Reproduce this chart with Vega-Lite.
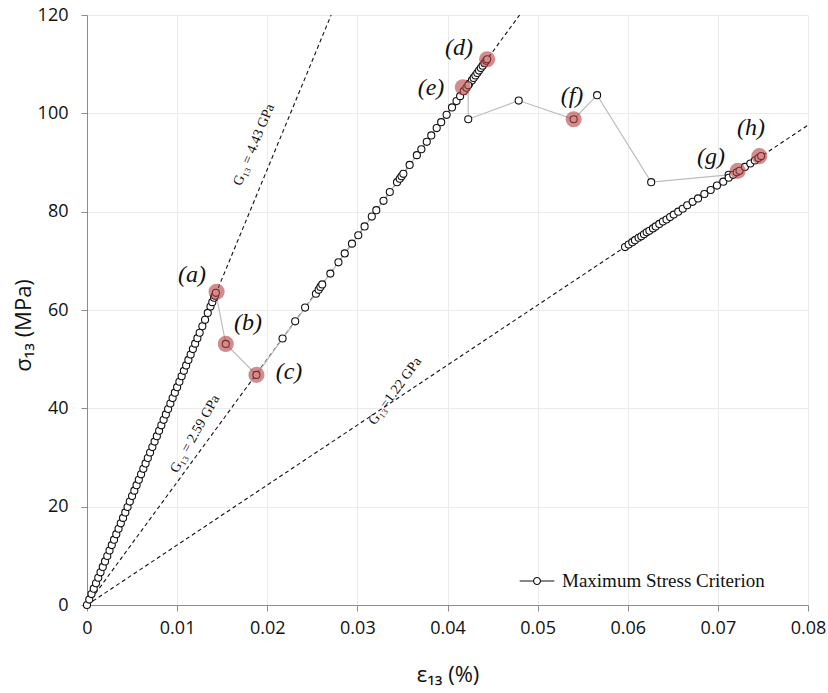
{
  "$schema": "https://vega.github.io/schema/vega-lite/v6.json",
  "width": 721,
  "height": 590,
  "autosize": {"type": "none"},
  "padding": {"left": 87, "top": 15, "right": 20, "bottom": 88},
  "background": "white",
  "config": {
    "view": {"stroke": null},
    "axis": {
      "labelFont": "Open Sans",
      "labelFontSize": 18,
      "labelColor": "#111",
      "labelFlush": false,
      "titleFont": "Open Sans",
      "titleFontSize": 22,
      "titleFontWeight": "normal",
      "titleColor": "#111",
      "domainColor": "#8c8c8c",
      "tickColor": "#8c8c8c",
      "gridColor": "#ebebeb",
      "tickSize": 6
    }
  },
  "datasets": {
    "refs": [
      {"line": "G443", "strain": 0, "stress": 0},
      {"line": "G443", "strain": 0.02709, "stress": 120},
      {"line": "G259", "strain": 0, "stress": 0},
      {"line": "G259", "strain": 0.048, "stress": 120},
      {"line": "G122", "strain": 0, "stress": 0},
      {"line": "G122", "strain": 0.08, "stress": 97.6}
    ],
    "curve": [
      {"i": 1, "strain": 0, "stress": 0},
      {"i": 2, "strain": 0.00025, "stress": 1.11},
      {"i": 3, "strain": 0.0005, "stress": 2.22},
      {"i": 4, "strain": 0.00075, "stress": 3.32},
      {"i": 5, "strain": 0.001, "stress": 4.43},
      {"i": 6, "strain": 0.00125, "stress": 5.54},
      {"i": 7, "strain": 0.0015, "stress": 6.65},
      {"i": 8, "strain": 0.00175, "stress": 7.75},
      {"i": 9, "strain": 0.002, "stress": 8.86},
      {"i": 10, "strain": 0.00225, "stress": 9.97},
      {"i": 11, "strain": 0.0025, "stress": 11.08},
      {"i": 12, "strain": 0.00275, "stress": 12.18},
      {"i": 13, "strain": 0.003, "stress": 13.29},
      {"i": 14, "strain": 0.00325, "stress": 14.4},
      {"i": 15, "strain": 0.0035, "stress": 15.51},
      {"i": 16, "strain": 0.00375, "stress": 16.61},
      {"i": 17, "strain": 0.004, "stress": 17.72},
      {"i": 18, "strain": 0.00425, "stress": 18.83},
      {"i": 19, "strain": 0.0045, "stress": 19.94},
      {"i": 20, "strain": 0.00475, "stress": 21.04},
      {"i": 21, "strain": 0.005, "stress": 22.15},
      {"i": 22, "strain": 0.00525, "stress": 23.26},
      {"i": 23, "strain": 0.0055, "stress": 24.37},
      {"i": 24, "strain": 0.00575, "stress": 25.47},
      {"i": 25, "strain": 0.006, "stress": 26.58},
      {"i": 26, "strain": 0.00625, "stress": 27.69},
      {"i": 27, "strain": 0.0065, "stress": 28.8},
      {"i": 28, "strain": 0.00675, "stress": 29.9},
      {"i": 29, "strain": 0.007, "stress": 31.01},
      {"i": 30, "strain": 0.00725, "stress": 32.12},
      {"i": 31, "strain": 0.0075, "stress": 33.23},
      {"i": 32, "strain": 0.00775, "stress": 34.33},
      {"i": 33, "strain": 0.008, "stress": 35.44},
      {"i": 34, "strain": 0.00825, "stress": 36.55},
      {"i": 35, "strain": 0.0085, "stress": 37.66},
      {"i": 36, "strain": 0.00875, "stress": 38.76},
      {"i": 37, "strain": 0.009, "stress": 39.87},
      {"i": 38, "strain": 0.00925, "stress": 40.98},
      {"i": 39, "strain": 0.0095, "stress": 42.09},
      {"i": 40, "strain": 0.00975, "stress": 43.19},
      {"i": 41, "strain": 0.01, "stress": 44.3},
      {"i": 42, "strain": 0.01025, "stress": 45.41},
      {"i": 43, "strain": 0.0105, "stress": 46.52},
      {"i": 44, "strain": 0.01075, "stress": 47.62},
      {"i": 45, "strain": 0.011, "stress": 48.73},
      {"i": 46, "strain": 0.01125, "stress": 49.84},
      {"i": 47, "strain": 0.0115, "stress": 50.95},
      {"i": 48, "strain": 0.01175, "stress": 52.05},
      {"i": 49, "strain": 0.012, "stress": 53.16},
      {"i": 50, "strain": 0.01225, "stress": 54.27},
      {"i": 51, "strain": 0.0125, "stress": 55.38},
      {"i": 52, "strain": 0.0128, "stress": 56.7},
      {"i": 53, "strain": 0.0131, "stress": 58.0},
      {"i": 54, "strain": 0.0134, "stress": 59.4},
      {"i": 55, "strain": 0.0137, "stress": 60.7},
      {"i": 56, "strain": 0.0139, "stress": 61.6},
      {"i": 57, "strain": 0.0141, "stress": 62.5},
      {"i": 58, "strain": 0.0142, "stress": 62.9},
      {"i": 59, "strain": 0.0143, "stress": 63.5},
      {"i": 60, "strain": 0.0154, "stress": 53.1},
      {"i": 61, "strain": 0.0188, "stress": 46.8},
      {"i": 62, "strain": 0.0217, "stress": 54.2},
      {"i": 63, "strain": 0.0231, "stress": 57.7},
      {"i": 64, "strain": 0.0242, "stress": 60.5},
      {"i": 65, "strain": 0.0254, "stress": 63.3},
      {"i": 66, "strain": 0.0257, "stress": 64.1},
      {"i": 67, "strain": 0.0259, "stress": 64.7},
      {"i": 68, "strain": 0.0261, "stress": 65.2},
      {"i": 69, "strain": 0.027, "stress": 67.4},
      {"i": 70, "strain": 0.0279, "stress": 69.7},
      {"i": 71, "strain": 0.0286, "stress": 71.5},
      {"i": 72, "strain": 0.0294, "stress": 73.5},
      {"i": 73, "strain": 0.0301, "stress": 75.2},
      {"i": 74, "strain": 0.0308, "stress": 77.0},
      {"i": 75, "strain": 0.0316, "stress": 79.0},
      {"i": 76, "strain": 0.0321, "stress": 80.3},
      {"i": 77, "strain": 0.0329, "stress": 82.2},
      {"i": 78, "strain": 0.0336, "stress": 84.0},
      {"i": 79, "strain": 0.0344, "stress": 86.0},
      {"i": 80, "strain": 0.0347, "stress": 86.7},
      {"i": 81, "strain": 0.0349, "stress": 87.2},
      {"i": 82, "strain": 0.0351, "stress": 87.7},
      {"i": 83, "strain": 0.0358, "stress": 89.5},
      {"i": 84, "strain": 0.0366, "stress": 91.5},
      {"i": 85, "strain": 0.0371, "stress": 92.7},
      {"i": 86, "strain": 0.0377, "stress": 94.2},
      {"i": 87, "strain": 0.0382, "stress": 95.5},
      {"i": 88, "strain": 0.0388, "stress": 97.0},
      {"i": 89, "strain": 0.0393, "stress": 98.2},
      {"i": 90, "strain": 0.0399, "stress": 99.7},
      {"i": 91, "strain": 0.0405, "stress": 101.2},
      {"i": 92, "strain": 0.041, "stress": 102.5},
      {"i": 93, "strain": 0.0414, "stress": 103.5},
      {"i": 94, "strain": 0.0418, "stress": 104.5},
      {"i": 95, "strain": 0.0421, "stress": 105.2},
      {"i": 96, "strain": 0.0424, "stress": 106.0},
      {"i": 97, "strain": 0.0427, "stress": 106.7},
      {"i": 98, "strain": 0.0429, "stress": 107.2},
      {"i": 99, "strain": 0.0431, "stress": 107.7},
      {"i": 100, "strain": 0.0433, "stress": 108.2},
      {"i": 101, "strain": 0.0435, "stress": 108.7},
      {"i": 102, "strain": 0.0437, "stress": 109.2},
      {"i": 103, "strain": 0.0439, "stress": 109.7},
      {"i": 104, "strain": 0.0441, "stress": 110.2},
      {"i": 105, "strain": 0.0443, "stress": 110.7},
      {"i": 106, "strain": 0.0444, "stress": 111.0},
      {"i": 107, "strain": 0.0423, "stress": 105.7},
      {"i": 108, "strain": 0.0423, "stress": 98.8},
      {"i": 109, "strain": 0.0479, "stress": 102.6},
      {"i": 110, "strain": 0.054, "stress": 98.8},
      {"i": 111, "strain": 0.0566, "stress": 103.7},
      {"i": 112, "strain": 0.0626, "stress": 86.0},
      {"i": 113, "strain": 0.0712, "stress": 87.5},
      {"i": 114, "strain": 0.0597, "stress": 72.8},
      {"i": 115, "strain": 0.0601, "stress": 73.3},
      {"i": 116, "strain": 0.0605, "stress": 73.8},
      {"i": 117, "strain": 0.0608, "stress": 74.2},
      {"i": 118, "strain": 0.0612, "stress": 74.7},
      {"i": 119, "strain": 0.0615, "stress": 75.0},
      {"i": 120, "strain": 0.0618, "stress": 75.4},
      {"i": 121, "strain": 0.0621, "stress": 75.8},
      {"i": 122, "strain": 0.0624, "stress": 76.1},
      {"i": 123, "strain": 0.0628, "stress": 76.6},
      {"i": 124, "strain": 0.0631, "stress": 77.0},
      {"i": 125, "strain": 0.0635, "stress": 77.5},
      {"i": 126, "strain": 0.0639, "stress": 78.0},
      {"i": 127, "strain": 0.0643, "stress": 78.4},
      {"i": 128, "strain": 0.0647, "stress": 78.9},
      {"i": 129, "strain": 0.0651, "stress": 79.4},
      {"i": 130, "strain": 0.0656, "stress": 80.0},
      {"i": 131, "strain": 0.0661, "stress": 80.6},
      {"i": 132, "strain": 0.0666, "stress": 81.3},
      {"i": 133, "strain": 0.0672, "stress": 82.0},
      {"i": 134, "strain": 0.0678, "stress": 82.7},
      {"i": 135, "strain": 0.0685, "stress": 83.6},
      {"i": 136, "strain": 0.0692, "stress": 84.4},
      {"i": 137, "strain": 0.0699, "stress": 85.3},
      {"i": 138, "strain": 0.0706, "stress": 86.1},
      {"i": 139, "strain": 0.0712, "stress": 86.9},
      {"i": 140, "strain": 0.0717, "stress": 87.5},
      {"i": 141, "strain": 0.0721, "stress": 88.0},
      {"i": 142, "strain": 0.0724, "stress": 88.3},
      {"i": 143, "strain": 0.073, "stress": 89.1},
      {"i": 144, "strain": 0.0736, "stress": 89.8},
      {"i": 145, "strain": 0.0741, "stress": 90.4},
      {"i": 146, "strain": 0.0745, "stress": 90.9},
      {"i": 147, "strain": 0.0748, "stress": 91.3}
    ],
    "marked": [
      {"tag": "(a)", "strain": 0.01438, "stress": 63.7, "lx": 0.01165, "ly": 67.1},
      {"tag": "(b)", "strain": 0.0154, "stress": 53.1, "lx": 0.01786, "ly": 57.4},
      {"tag": "(c)", "strain": 0.0188, "stress": 46.8, "lx": 0.02241, "ly": 47.4},
      {"tag": "(d)", "strain": 0.0444, "stress": 111.0, "lx": 0.04128, "ly": 113.3},
      {"tag": "(e)", "strain": 0.0417, "stress": 105.3, "lx": 0.03817, "ly": 105.1},
      {"tag": "(f)", "strain": 0.054, "stress": 98.8, "lx": 0.05381, "ly": 103.5},
      {"tag": "(g)", "strain": 0.0722, "stress": 88.3, "lx": 0.06924, "ly": 91.1},
      {"tag": "(h)", "strain": 0.0746, "stress": 91.3, "lx": 0.07368, "ly": 97.0}
    ],
    "reflabels": [
      {"label": "G₁₃ = 4.43 GPa", "strain": 0.01853, "stress": 93.6},
      {"label": "G₁₃ = 2.59 GPa", "strain": 0.01198, "stress": 34.8},
      {"label": "G₁₃=1.22 GPa", "strain": 0.03418, "stress": 43.5}
    ]
  },
  "layer": [
    {
      "data": {"name": "refs"},
      "mark": {"type": "line", "color": "#111", "strokeWidth": 1.1, "strokeDash": [4, 3]},
      "encoding": {
        "x": {"field": "strain", "type": "quantitative",
          "scale": {"domain": [0, 0.08], "nice": false},
          "axis": {"values": [0, 0.01, 0.02, 0.03, 0.04, 0.05, 0.06, 0.07, 0.08], "format": ".2~f", "title": "ε₁₃ (%)", "titlePadding": 27, "labelPadding": 8, "grid": true}},
        "y": {"field": "stress", "type": "quantitative",
          "scale": {"domain": [0, 120], "nice": false},
          "axis": {"values": [0, 20, 40, 60, 80, 100, 120], "title": "σ₁₃ (MPa)", "titlePadding": 2, "titleY": 310, "labelPadding": 13, "grid": true}},
        "detail": {"field": "line"}
      }
    },
    {
      "data": {"name": "curve"},
      "mark": {"type": "line", "color": "#bdbdbd", "strokeWidth": 1.2},
      "encoding": {
        "x": {"field": "strain", "type": "quantitative"},
        "y": {"field": "stress", "type": "quantitative"},
        "order": {"field": "i", "type": "quantitative"}
      }
    },
    {
      "data": {"name": "curve"},
      "mark": {"type": "point", "shape": "circle", "size": 50, "filled": false, "fill": "white", "fillOpacity": 1, "strokeWidth": 1.1, "opacity": 1},
      "encoding": {
        "x": {"field": "strain", "type": "quantitative"},
        "y": {"field": "stress", "type": "quantitative"},
        "stroke": {"datum": "Maximum Stress Criterion", "type": "nominal",
          "scale": {"range": ["#111"]},
          "legend": {
            "title": null,
            "orient": "none",
            "legendX": 432,
            "legendY": 548,
            "symbolType": "M-1,0H-0.2M0.2,0H1M0.2,0A0.2,0.2,0,1,1,-0.2,0A0.2,0.2,0,1,1,0.2,0",
            "symbolSize": 1200,
            "symbolStrokeWidth": 1.1,
            "symbolFillColor": "white",
            "labelFont": "Liberation Serif",
            "labelFontSize": 19,
            "labelColor": "#111",
            "labelOffset": 7,
            "labelLimit": 400
          }}
      }
    },
    {
      "data": {"name": "marked"},
      "mark": {"type": "circle", "size": 260, "color": "#b5403f", "opacity": 0.6},
      "encoding": {
        "x": {"field": "strain", "type": "quantitative"},
        "y": {"field": "stress", "type": "quantitative"}
      }
    },
    {
      "data": {"name": "marked"},
      "mark": {"type": "text", "font": "Liberation Serif", "fontStyle": "italic", "fontSize": 24, "color": "#111", "align": "center", "baseline": "middle"},
      "encoding": {
        "x": {"field": "lx", "type": "quantitative"},
        "y": {"field": "ly", "type": "quantitative"},
        "text": {"field": "tag"}
      }
    },
    {
      "data": {"name": "reflabels"},
      "mark": {"type": "text", "font": "Liberation Serif", "fontSize": 14, "color": "#111", "align": "center", "baseline": "middle"},
      "encoding": {
        "x": {"field": "strain", "type": "quantitative"},
        "y": {"field": "stress", "type": "quantitative"},
        "text": {"field": "label"},
        "angle": {"field": "label", "type": "nominal",
          "scale": {"domain": ["G₁₃ = 4.43 GPa", "G₁₃ = 2.59 GPa", "G₁₃=1.22 GPa"], "range": [292.5, 306.2, 326.4]},
          "legend": null}
      }
    }
  ]
}
